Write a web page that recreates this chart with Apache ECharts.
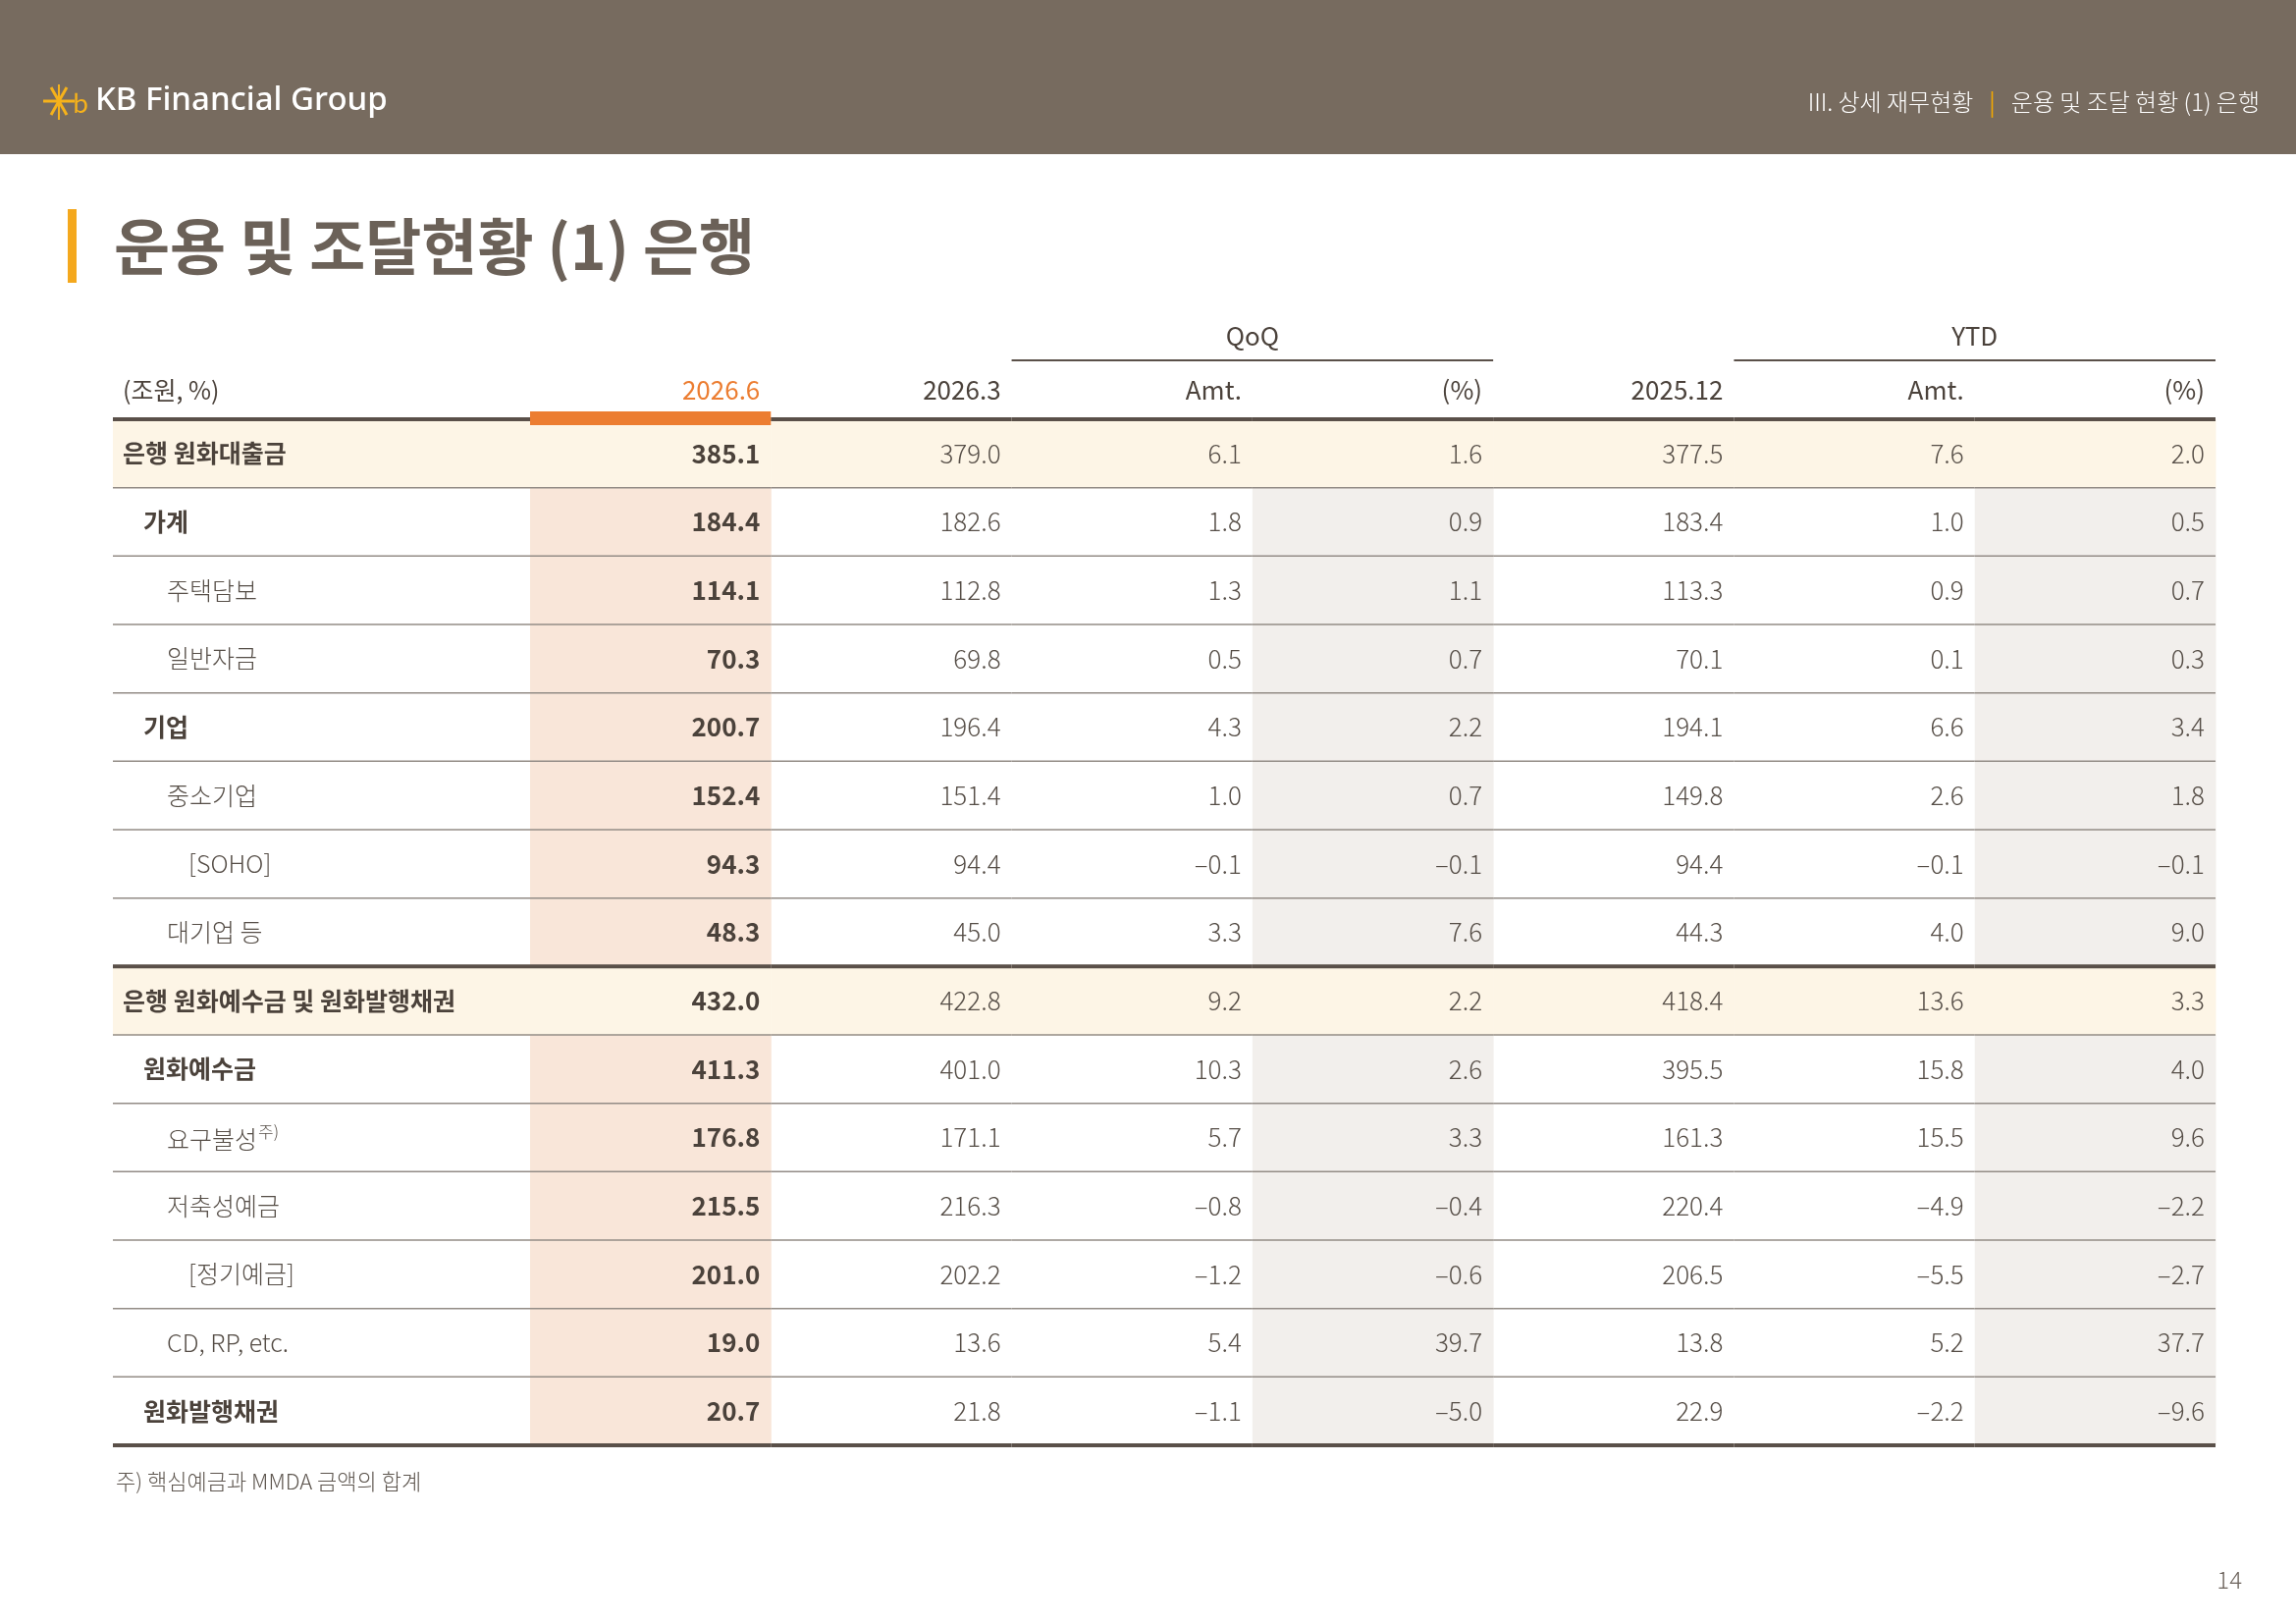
<!doctype html>
<html>
<head>
<meta charset="utf-8">
<title>운용 및 조달현황 (1) 은행</title>
<script src="https://cdn.jsdelivr.net/npm/echarts@6/dist/echarts.min.js"></script>
<style>
html, body { margin: 0; padding: 0; background: #fff; }
#main { width: 2339px; height: 1654px; }
</style>
</head>
<body>
<div id="main"></div>
<script>
// 행 / 열 정의
var rowLabels = ['은행 원화대출금', '가계', '주택담보', '일반자금', '기업', '중소기업', '[SOHO]', '대기업 등',
  '은행 원화예수금 및 원화발행채권', '원화예수금', '요구불성', '저축성예금', '[정기예금]', 'CD, RP, etc.', '원화발행채권'];
var rowLevels = [0, 1, 2, 2, 1, 2, 3, 2, 0, 1, 2, 2, 3, 2, 1];
var rowNotes = ['', '', '', '', '', '', '', '', '', '', '주)', '', '', '', ''];
var colHeads = ['2026.6', '2026.3', 'Amt.', '(%)', '2025.12', 'Amt.', '(%)'];
var groupHeads = ['', '', 'QoQ', '', '', 'YTD', ''];   // 2칸 병합
var unitLabel = '(조원, %)';

// 값 (조원, %)
var v202606 = [385.1, 184.4, 114.1, 70.3, 200.7, 152.4, 94.3, 48.3, 432.0, 411.3, 176.8, 215.5, 201.0, 19.0, 20.7];
var v202603 = [379.0, 182.6, 112.8, 69.8, 196.4, 151.4, 94.4, 45.0, 422.8, 401.0, 171.1, 216.3, 202.2, 13.6, 21.8];
var qoqAmt  = [6.1, 1.8, 1.3, 0.5, 4.3, 1.0, -0.1, 3.3, 9.2, 10.3, 5.7, -0.8, -1.2, 5.4, -1.1];
var qoqPct  = [1.6, 0.9, 1.1, 0.7, 2.2, 0.7, -0.1, 7.6, 2.2, 2.6, 3.3, -0.4, -0.6, 39.7, -5.0];
var v202512 = [377.5, 183.4, 113.3, 70.1, 194.1, 149.8, 94.4, 44.3, 418.4, 395.5, 161.3, 220.4, 206.5, 13.8, 22.9];
var ytdAmt  = [7.6, 1.0, 0.9, 0.1, 6.6, 2.6, -0.1, 4.0, 13.6, 15.8, 15.5, -4.9, -5.5, 5.2, -2.2];
var ytdPct  = [2.0, 0.5, 0.7, 0.3, 3.4, 1.8, -0.1, 9.0, 3.3, 4.0, 9.6, -2.2, -2.7, 37.7, -9.6];

var columns = [v202606, v202603, qoqAmt, qoqPct, v202512, ytdAmt, ytdPct];

var FONT = '"Noto Sans CJK KR", "Noto Sans", sans-serif';
var DARK = '#4b423b', SOFT = '#564e47';
var CREAM = '#fdf5e6', PEACH = '#f9e6d9', GRAY = '#f2efec';
var LINE_DARK = '#5a5049', LINE_LIGHT = '#938c86';
var ORANGE = '#ec7d31';
var colShade = [0, 0, 0, 1, 0, 0, 1];
var indent = [10, 31, 55, 77];

function fmt(v) {
  var s = Math.abs(v).toFixed(1);
  return v < 0 ? '\u2013' + s : s;
}

function cellBox(api) {
  var p = api.coord([api.value(0), api.value(1)]);
  var s = api.size([1, 1]);
  return { cx: p[0], cy: p[1], x: p[0] - s[0] / 2, y: p[1] - s[1] / 2, w: s[0], h: s[1] };
}

function borders(b, r, els) {
  var last = r === rowLabels.length - 1;
  var thick = last || rowLevels[r + 1] === 0;
  els.push({ type: 'line', z2: 10, shape: { x1: b.x, y1: b.y + b.h, x2: b.x + b.w, y2: b.y + b.h },
    style: { stroke: thick ? LINE_DARK : LINE_LIGHT, lineWidth: thick ? 4 : 1.5 } });
  if (r === 0) {
    els.push({ type: 'line', z2: 10, shape: { x1: b.x, y1: b.y, x2: b.x + b.w, y2: b.y },
      style: { stroke: LINE_DARK, lineWidth: 4 } });
  }
}

function drawLabel(params, api) {
  var r = api.value(1);
  var b = cellBox(api);
  var lv = rowLevels[r];
  var els = [];
  if (lv === 0) {
    els.push({ type: 'rect', z2: 0, shape: { x: b.x, y: b.y, width: b.w + 0.5, height: b.h + 0.5 }, style: { fill: CREAM } });
  }
  borders(b, r, els);
  var strong = lv <= 1;
  var weight = strong ? 'bold' : 300, color = strong ? DARK : SOFT;
  var txt = { type: 'text', z2: 20, x: b.x + indent[lv], y: b.cy,
    style: { text: rowLabels[r], fontFamily: FONT, fontSize: 25, fontWeight: weight, fill: color,
      align: 'left', verticalAlign: 'middle' } };
  if (rowNotes[r]) {
    txt.style.text = '{m|' + rowLabels[r] + '}{s|' + rowNotes[r] + '}';
    txt.style.rich = {
      m: { fontFamily: FONT, fontSize: 25, fontWeight: weight, fill: color, verticalAlign: 'bottom' },
      s: { fontFamily: FONT, fontSize: 17, fontWeight: weight, fill: color, verticalAlign: 'top', padding: [0, 0, 12, 1] }
    };
  }
  els.push(txt);
  if (r === 0) {
    els.push({ type: 'text', z2: 20, x: b.x + 10, y: b.y - 30,
      style: { text: unitLabel, fontFamily: FONT, fontSize: 25, fill: DARK, align: 'left', verticalAlign: 'middle' } });
  }
  return { type: 'group', children: els };
}

function drawValue(params, api) {
  var c = api.value(0), r = api.value(1), v = api.value(2);
  var b = cellBox(api);
  var section = rowLevels[r] === 0;
  var fill = section ? CREAM : (c === 0 ? PEACH : (colShade[c] ? GRAY : null));
  var els = [];
  if (fill) {
    els.push({ type: 'rect', z2: 0, shape: { x: b.x, y: b.y, width: b.w + 0.5, height: b.h + 0.5 }, style: { fill: fill } });
  }
  borders(b, r, els);
  els.push({ type: 'text', z2: 20, x: b.x + b.w - 11, y: b.cy,
    style: { text: fmt(v), fontFamily: FONT, fontSize: 26, fontWeight: c === 0 ? 'bold' : 300,
      fill: c === 0 ? DARK : SOFT, align: 'right', verticalAlign: 'middle' } });
  if (r === 0) {
    els.push({ type: 'text', z2: 20, x: b.x + b.w - 11, y: b.y - 30,
      style: { text: colHeads[c], fontFamily: FONT, fontSize: 26, fill: c === 0 ? ORANGE : DARK,
        align: 'right', verticalAlign: 'middle' } });
    if (groupHeads[c]) {
      els.push({ type: 'text', z2: 20, x: b.x + b.w, y: b.y - 85,
        style: { text: groupHeads[c], fontFamily: FONT, fontSize: 26, fill: DARK, align: 'center', verticalAlign: 'middle' } });
      els.push({ type: 'line', z2: 10, shape: { x1: b.x, y1: b.y - 60, x2: b.x + 2 * b.w, y2: b.y - 60 },
        style: { stroke: LINE_DARK, lineWidth: 2 } });
    }
    if (c === 0) {
      els.push({ type: 'rect', z2: 30, shape: { x: b.x, y: b.y - 8, width: b.w, height: 14 }, style: { fill: ORANGE } });
    }
  }
  return { type: 'group', children: els };
}

var labelData = rowLabels.map(function (name, i) { return [0, i]; });
var valueData = [];
columns.forEach(function (arr, c) {
  arr.forEach(function (v, r) { valueData.push([c, r, v]); });
});

var rowIdx = rowLabels.map(function (n, i) { return i; });
var TOP = 427, HEIGHT = 1045;

var chart = echarts.init(document.getElementById('main'));
chart.setOption({
  backgroundColor: '#fff',
  animation: false,
  grid: [
    { left: 115, width: 425, top: TOP, height: HEIGHT },
    { left: 540, width: 1717, top: TOP, height: HEIGHT }
  ],
  xAxis: [
    { gridIndex: 0, type: 'category', data: ['label'], show: false },
    { gridIndex: 1, type: 'category', data: colHeads.map(function (h, i) { return i; }), show: false }
  ],
  yAxis: [
    { gridIndex: 0, type: 'category', data: rowIdx, inverse: true, show: false },
    { gridIndex: 1, type: 'category', data: rowIdx, inverse: true, show: false }
  ],
  series: [
    { type: 'custom', xAxisIndex: 0, yAxisIndex: 0, data: labelData, encode: { x: 0, y: 1 }, renderItem: drawLabel },
    { type: 'custom', xAxisIndex: 1, yAxisIndex: 1, data: valueData, encode: { x: 0, y: 1 }, renderItem: drawValue }
  ],
  graphic: [
    { type: 'rect', left: 0, top: 0, shape: { width: 2339, height: 157 }, style: { fill: '#776b5f' } },
    { type: 'group', x: 60, y: 103, children: [
      { type: 'line', shape: { x1: -16, y1: 0, x2: 16, y2: 0 }, style: { stroke: '#f6b21b', lineWidth: 3 } },
      { type: 'line', shape: { x1: -8, y1: -14, x2: 8, y2: 14 }, style: { stroke: '#f6b21b', lineWidth: 3 } },
      { type: 'line', shape: { x1: 8, y1: -14, x2: -8, y2: 14 }, style: { stroke: '#f6b21b', lineWidth: 3 } },
      { type: 'line', shape: { x1: 0, y1: -17, x2: 0, y2: 19 }, style: { stroke: '#f6b21b', lineWidth: 2 } },
      { type: 'text', x: 14, y: 2, style: { text: 'b', fontFamily: FONT, fontSize: 26, fill: '#f6b21b', verticalAlign: 'middle' } }
    ] },
    { type: 'text', x: 97, y: 103, style: { text: 'KB Financial Group', fontFamily: '"Noto Sans", sans-serif',
      fontSize: 33, fontWeight: 500, fill: '#ffffff', verticalAlign: 'middle' } },
    { type: 'text', x: 2302, y: 104, style: {
      text: '{a|III. 상세 재무현황}{b||}{a|운용 및 조달 현황 (1) 은행}',
      align: 'right', verticalAlign: 'middle',
      rich: {
        a: { fontFamily: FONT, fontSize: 24, fontWeight: 300, fill: '#ffffff' },
        b: { fontFamily: FONT, fontSize: 24, fill: '#f2a900', padding: [0, 16, 0, 16] }
      } } },
    { type: 'rect', x: 69, y: 213, shape: { width: 9, height: 75 }, style: { fill: '#f4a81d' } },
    { type: 'text', x: 116, y: 251, style: { text: '운용 및 조달현황 (1) 은행', fontFamily: FONT, fontSize: 62,
      fontWeight: 'bold', fill: '#6b6158', verticalAlign: 'middle' } },
    { type: 'text', x: 118, y: 1509, style: { text: '주) 핵심예금과 MMDA 금액의 합계', fontFamily: FONT, fontSize: 22,
      fontWeight: 300, fill: '#5d554e', verticalAlign: 'middle' } },
    { type: 'text', x: 2284, y: 1609, style: { text: '14', fontFamily: FONT, fontSize: 24, fontWeight: 300,
      fill: '#6c635c', align: 'right', verticalAlign: 'middle' } }
  ]
});
</script>
</body>
</html>
